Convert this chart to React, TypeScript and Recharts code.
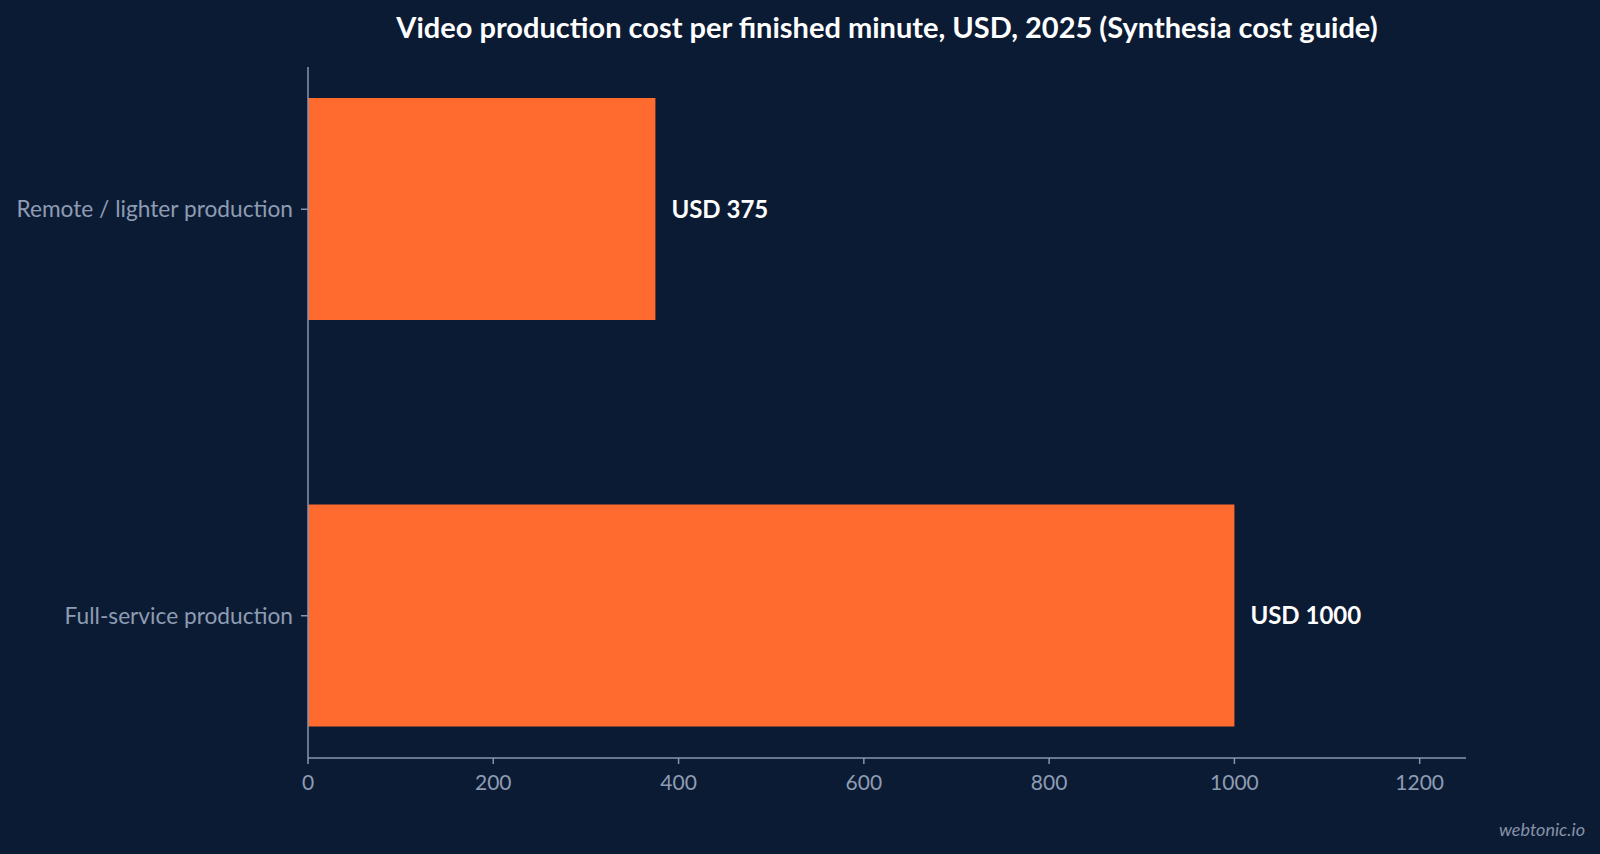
import React from "react";
import { BarChart, Bar, XAxis, YAxis, LabelList } from "recharts";

const categories = ["Remote / lighter production", "Full-service production"];
const costs = [375, 1000];
const xTicks = [0, 200, 400, 600, 800, 1000, 1200];
const title = "Video production cost per finished minute, USD, 2025 (Synthesia cost guide)";

const data = categories.map((name, i) => ({ idx: i, name, value: costs[i] }));

const BG = "#0c1b34";
const AXIS = "#8796ae";
const TICK = "#8e9cb3";
const BAR = "#ff6b2f";
const FONT = "Lato, 'Open Sans', sans-serif";

export default function App() {
  return (
    <div style={{ position: "absolute", left: 0, top: 0, width: 1600, height: 854, background: BG, fontFamily: FONT, overflow: "hidden" }}>
      <div style={{ position: "absolute", left: 308, width: 1158, top: 12, lineHeight: "29px", textAlign: "center", color: "#ffffff", fontWeight: 700, fontSize: 29, fontFamily: FONT, whiteSpace: "nowrap" }}>
        {title}
      </div>
      <BarChart
        width={1600}
        height={854}
        data={data}
        layout="vertical"
        margin={{ top: 67, right: 134, bottom: 56, left: 0 }}
      >
        <XAxis
          type="number"
          domain={[0, 1250]}
          ticks={xTicks}
          allowDataOverflow
          stroke={AXIS}
          tickSize={6}
          tickMargin={11}
          height={40}
          tick={{ fill: TICK, fontSize: 21, fontFamily: FONT }}
          tickLine={{ stroke: AXIS, strokeWidth: 1.5 }}
          axisLine={{ stroke: AXIS, strokeWidth: 1.5 }}
        />
        <YAxis
          type="number"
          dataKey="idx"
          domain={[-0.35, 1.35]}
          ticks={[0, 1]}
          allowDataOverflow
          width={308}
          tickSize={7}
          tickMargin={8}
          tickFormatter={(v: number) => categories[v] ?? ""}
          tick={{ fill: TICK, fontSize: 22.7, fontFamily: FONT }}
          tickLine={{ stroke: AXIS, strokeWidth: 1.5 }}
          axisLine={{ stroke: AXIS, strokeWidth: 1.5 }}
        />
        <Bar dataKey="value" fill={BAR} barSize={222} isAnimationActive={false}>
          <LabelList
            dataKey="value"
            position="right"
            offset={16}
            formatter={(v: number) => `USD ${v}`}
            style={{ fill: "#ffffff", fontSize: 24, fontWeight: 700, fontFamily: FONT }}
          />
        </Bar>
      </BarChart>
      <div style={{ position: "absolute", right: 15, top: 820, lineHeight: "18px", color: "#8592a8", fontStyle: "italic", fontSize: 18, fontFamily: FONT }}>
        webtonic.io
      </div>
    </div>
  );
}
